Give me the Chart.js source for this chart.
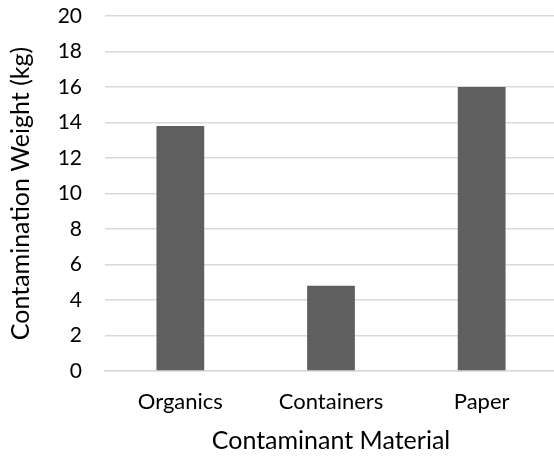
<!DOCTYPE html>
<html>
<head>
<meta charset="utf-8">
<script src="https://cdn.jsdelivr.net/npm/chart.js@4"></script>
<style>
html,body{margin:0;padding:0;background:#fff;overflow:hidden;}
#wrap{width:557px;height:456px;overflow:hidden;}
</style>
</head>
<body>
<div id="wrap"><canvas id="c" width="557" height="456"></canvas></div>
<script>
const categories = ['Organics', 'Containers', 'Paper'];
const weights = [13.8, 4.8, 16.0];
const yMin = 0, yMax = 20, yStep = 2;
const xTitle = 'Contaminant Material';
const yTitle = 'Contamination Weight (kg)';

const FONT = 'Lato, "Open Sans", sans-serif';

new Chart(document.getElementById('c'), {
  type: 'bar',
  data: {
    labels: categories,
    datasets: [{
      data: weights,
      backgroundColor: '#5f5f5f',
      borderWidth: 0,
      barPercentage: 0.317,
      categoryPercentage: 1.0
    }]
  },
  options: {
    responsive: false,
    animation: false,
    layout: { padding: { top: 16, left: 0, right: 0, bottom: 0 } },
    plugins: { legend: { display: false }, tooltip: { enabled: false } },
    scales: {
      x: {
        grid: { display: false, drawTicks: false },
        border: { display: true, color: '#d9d9d9', width: 1.5 },
        ticks: { color: '#000', font: { family: FONT, size: 22 }, padding: 18, maxRotation: 0 },
        title: { display: true, text: xTitle, color: '#000', font: { family: FONT, size: 25 }, padding: { top: 4, bottom: 0 } },
        afterFit(s) { s.height = 85; s.paddingLeft = 0; s.paddingRight = 0; }
      },
      y: {
        min: yMin, max: yMax,
        ticks: { stepSize: yStep, color: '#000', font: { family: FONT, size: 21 }, padding: 23 },
        grid: { color: '#d9d9d9', lineWidth: 1.5, drawTicks: false },
        border: { display: false },
        title: { display: true, text: yTitle, color: '#000', font: { family: FONT, size: 25 }, padding: { top: 6, bottom: 0 } },
        afterFit(s) { s.width = 105; s.paddingTop = 0; s.paddingBottom = 0; }
      }
    }
  }
});
</script>
</body>
</html>
